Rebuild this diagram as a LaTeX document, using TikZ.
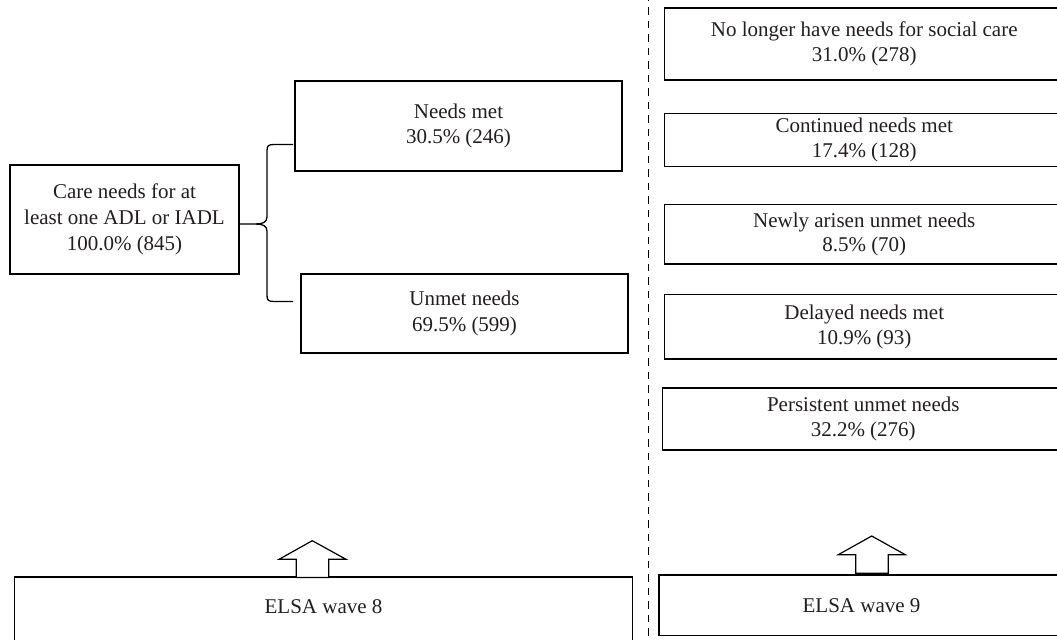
\documentclass[tikz,border=0pt]{standalone}
\usepackage{fontspec}
\setmainfont{Liberation Serif}
\definecolor{txt}{HTML}{231F20}
\tikzset{
  box/.style={draw=black, line width=0.6pt, inner sep=0pt, align=center, text=txt,
    font=\fontsize{10.5}{12.9}\selectfont},
  corners/.style args={#1/#2/#3/#4}{at={({(#1+#3)/2},{(#2+#4)/2})},
    minimum width={(#3-#1)*0.5pt}, minimum height={(#4-#2)*0.5pt}},
  outline/.style={draw=black, line width=0.6pt},
  divider/.style={draw=black, line width=0.6pt, dash pattern=on 3.75pt off 3pt, dash phase=3.25pt},
  bigarrow/.style={draw=black, line width=0.6pt, fill=white, line join=miter},
  brace/.style={draw=black, line width=0.65pt}
}
\begin{document}
\begin{tikzpicture}[x=0.5pt,y=-0.5pt]
\useasboundingbox (0,0) rectangle (1057,639);
\clip (0,0) rectangle (1057,639);
\fill[white] (0,0) rectangle (1057,639);

% wave 8 side
\node[box, corners=10/165/239/274] (care) {Care needs for at\\least one ADL or IADL\\100.0\% (845)};
\node[box, corners=295/81/622/171] (met) {Needs met\\30.5\% (246)};
\node[box, corners=301/274/628/353] (unmet) {Unmet needs\\69.5\% (599)};

% brace
\coordinate (bstem) at (239.5,224);
\coordinate (btop) at (293,144.5);
\coordinate (bbot) at (293,301.5);
\draw[brace] (btop) -- (274,144.5) .. controls (268,144.5) and (267,146) .. (267,151)
  -- (267,217) .. controls (267,222.5) and (262,224) .. (256,224) -- (bstem);
\draw[brace] (bbot) -- (274,301.5) .. controls (268,301.5) and (267,300) .. (267,295)
  -- (267,231) .. controls (267,225.5) and (262,224) .. (256,224);

% divider
\coordinate (dtop) at (648.3,0);
\coordinate (dbot) at (648.3,645);
\draw[divider] (dtop) -- (dbot);

% wave 9 side
\node[box, corners=664.5/8/1064/80, font=\fontsize{10.5}{12.3}\selectfont] (nolonger) {No longer have needs for social care\\31.0\% (278)};
\node[box, corners=664.5/113.5/1064/166.5, font=\fontsize{10.5}{12.3}\selectfont] (contmet) {Continued needs met\\17.4\% (128)};
\node[box, corners=664.5/204.5/1064/264, font=\fontsize{10.5}{12.3}\selectfont] (newly) {Newly arisen unmet needs\\8.5\% (70)};
\node[box, corners=664.5/294.5/1064/359, font=\fontsize{10.5}{12.3}\selectfont] (delayed) {Delayed needs met\\10.9\% (93)};
\node[box, corners=662.5/388/1064/450, font=\fontsize{10.5}{12.3}\selectfont] (persist) {Persistent unmet needs\\32.2\% (276)};

% bottom boxes
\node[box, draw=none, corners=15/577.5/632/636] (w8) {ELSA wave 8};
\draw[outline] (w8.north west) -- (w8.north east) -- ++(0,100) (w8.north west) -- ++(0,100);
\node[box, corners=659/575/1064/635.5] (w9) {ELSA wave 9};

% up arrows
\draw[bigarrow] (296.3,577.5) -- (296.3,559.3) -- (279,559.3) -- (312.3,540.7) -- (346,559.3)
  -- (328.7,559.3) -- (328.7,577.5) -- cycle;
\draw[bigarrow] (855.7,573.3) -- (855.7,554.7) -- (838.3,554.7) -- (871.7,536) -- (905.3,554.7)
  -- (888.3,554.7) -- (888.3,573.3) -- cycle;
\end{tikzpicture}
\end{document}
